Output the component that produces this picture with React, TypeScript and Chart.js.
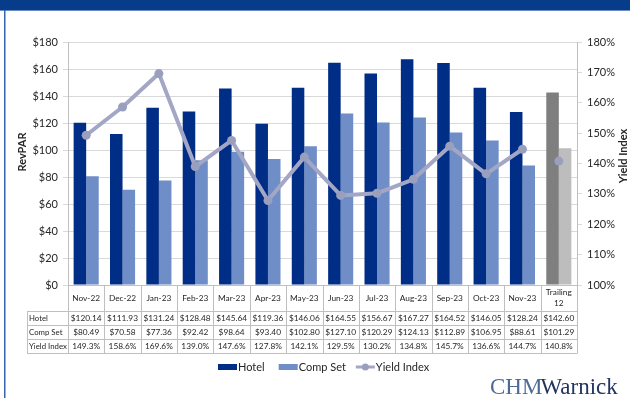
import React, { useEffect, useRef } from 'react';
import { Chart, registerables } from 'chart.js';

Chart.register(...registerables);

const categories = ['Nov-22', 'Dec-22', 'Jan-23', 'Feb-23', 'Mar-23', 'Apr-23', 'May-23', 'Jun-23', 'Jul-23', 'Aug-23', 'Sep-23', 'Oct-23', 'Nov-23', 'Trailing 12'];
const hotel = [120.14, 111.93, 131.24, 128.48, 145.64, 119.36, 146.06, 164.55, 156.67, 167.27, 164.52, 146.05, 128.24, 142.6];
const compSet = [80.49, 70.58, 77.36, 92.42, 98.64, 93.4, 102.8, 127.1, 120.29, 124.13, 112.89, 106.95, 88.61, 101.29];
const yieldIndex = [149.3, 158.6, 169.6, 139.0, 147.6, 127.8, 142.1, 129.5, 130.2, 134.8, 145.7, 136.6, 144.7, 140.8];
const rowLabels = ['Hotel', 'Comp Set', 'Yield Index'];

const FONT = 'Lato, "Open Sans", sans-serif';
const HOTEL = '#002d85';
const COMP = '#6f8dc6';
const HOTEL_T12 = '#7f7f7f';
const COMP_T12 = '#bdbdbd';
const YIELD = '#a3a7c5';
const YIELD_PT = '#9a9fbe';
const GRID = '#d9d9d9';
const LINE = '#bfbfbf';
const TEXT = '#262626';

const last = categories.length - 1;
const fmtMoney = (v: number) => '$' + v.toFixed(2);
const fmtPct = (v: number) => v.toFixed(1) + '%';

const framePlugin = {
  id: 'frame',
  beforeDraw(chart: any) {
    const ctx = chart.ctx;
    ctx.save();
    ctx.fillStyle = '#ffffff';
    ctx.fillRect(0, 0, chart.width, chart.height);
    ctx.fillStyle = '#073c8a';
    ctx.fillRect(0, 0, chart.width, 10);
    ctx.fillStyle = '#6a8cc2';
    ctx.fillRect(0, 10, chart.width, 1);
    ctx.fillStyle = '#3565ad';
    ctx.fillRect(4, 10, 1.5, chart.height - 10);
    ctx.restore();
  },
};

const tablePlugin = {
  id: 'table',
  afterDraw(chart: any) {
    const ctx = chart.ctx;
    const area = chart.chartArea;
    const xs = chart.scales.x;
    const n = categories.length;
    const step = (area.right - area.left) / n;
    const top = area.bottom;
    const hdrBottom = top + 26;
    const rowH = 14;
    const bottom = hdrBottom + rowH * 3;
    const labelLeft = 27;
    ctx.save();
    ctx.strokeStyle = LINE;
    ctx.lineWidth = 1;
    const ln = (x1: number, y1: number, x2: number, y2: number) => {
      ctx.beginPath();
      ctx.moveTo(x1, y1);
      ctx.lineTo(x2, y2);
      ctx.stroke();
    };
    for (let i = 0; i <= n; i++) {
      const xx = Math.round(xs.getPixelForValue(i) - step / 2) + 0.5;
      ln(xx, top, xx, bottom);
    }
    ln(labelLeft + 0.5, hdrBottom, labelLeft + 0.5, bottom);
    for (let r = 0; r <= 3; r++) {
      const yy = Math.round(hdrBottom + r * rowH) + 0.5;
      ln(labelLeft, yy, Math.round(area.right) + 0.5, yy);
    }
    ctx.fillStyle = TEXT;
    ctx.font = `8.3px ${FONT}`;
    ctx.textBaseline = 'middle';
    ctx.textAlign = 'center';
    categories.forEach((c, i) => {
      const cx = xs.getPixelForValue(i);
      const parts = c === 'Trailing 12' ? ['Trailing', '12'] : [c];
      const mid = (top + hdrBottom) / 2;
      if (parts.length === 1) ctx.fillText(parts[0], cx, mid);
      else {
        ctx.fillText(parts[0], cx, mid - 5.5);
        ctx.fillText(parts[1], cx, mid + 5.5);
      }
    });
    const rows = [hotel.map(fmtMoney), compSet.map(fmtMoney), yieldIndex.map(fmtPct)];
    rows.forEach((vals, r) => {
      const cy = hdrBottom + r * rowH + rowH / 2 + 0.5;
      ctx.textAlign = 'left';
      ctx.font = `7.8px ${FONT}`;
      ctx.fillText(rowLabels[r], labelLeft + 2, cy);
      ctx.textAlign = 'center';
      ctx.font = `8.3px ${FONT}`;
      vals.forEach((v, i) => ctx.fillText(v, xs.getPixelForValue(i), cy));
    });

    // axis titles
    ctx.font = `bold 11px ${FONT}`;
    ctx.textAlign = 'center';
    ctx.save();
    ctx.translate(22, 152);
    ctx.rotate(-Math.PI / 2);
    ctx.fillText('RevPAR', 0, 0);
    ctx.restore();
    ctx.save();
    ctx.translate(623, 156);
    ctx.rotate(-Math.PI / 2);
    ctx.fillText('Yield Index', 0, 0);
    ctx.restore();

    // legend
    ctx.font = `11px ${FONT}`;
    ctx.textAlign = 'left';
    const ly = 367;
    let lx = 218;
    ctx.fillStyle = HOTEL;
    ctx.fillRect(lx, ly - 3, 19, 6);
    ctx.fillStyle = TEXT;
    ctx.fillText('Hotel', lx + 20, ly);
    lx = lx + 20 + ctx.measureText('Hotel').width + 14;
    ctx.fillStyle = COMP;
    ctx.fillRect(lx, ly - 3, 19, 6);
    ctx.fillStyle = TEXT;
    ctx.fillText('Comp Set', lx + 20, ly);
    lx = lx + 20 + ctx.measureText('Comp Set').width + 10;
    ctx.strokeStyle = YIELD;
    ctx.lineWidth = 3;
    ln(lx, ly, lx + 19, ly);
    ctx.fillStyle = YIELD_PT;
    ctx.beginPath();
    ctx.arc(lx + 9.5, ly, 3.5, 0, Math.PI * 2);
    ctx.fill();
    ctx.fillStyle = TEXT;
    ctx.fillText('Yield Index', lx + 20, ly);

    // logo
    ctx.textBaseline = 'alphabetic';
    ctx.font = `23px "Liberation Serif", "DejaVu Serif", serif`;
    let gx = 490;
    ctx.fillStyle = '#4d6a97';
    ctx.fillText('CHM', gx, 394);
    gx += ctx.measureText('CHM').width - 2;
    ctx.fillStyle = '#23355e';
    ctx.fillText('Warnick', gx, 394);
    ctx.restore();
  },
};

export default function App() {
  const ref = useRef<HTMLCanvasElement | null>(null);
  useEffect(() => {
    document.body.style.margin = '0';
    const canvas = ref.current;
    if (!canvas) return;
    const chart = new Chart(canvas, {
      type: 'bar',
      data: {
        labels: categories,
        datasets: [
          {
            type: 'line',
            label: 'Yield Index',
            data: yieldIndex,
            yAxisID: 'y1',
            borderColor: YIELD,
            backgroundColor: YIELD_PT,
            borderWidth: 4,
            borderJoinStyle: 'round',
            borderCapStyle: 'round',
            pointRadius: 4.5,
            pointBorderWidth: 0,
            pointBackgroundColor: YIELD_PT,
            tension: 0,
            order: 0,
            segment: {
              borderColor: (c: any) => (c.p1DataIndex === last ? 'rgba(0,0,0,0)' : YIELD),
            },
          } as any,
          {
            type: 'bar',
            label: 'Hotel',
            data: hotel,
            yAxisID: 'y',
            backgroundColor: hotel.map((_, i) => (i === last ? HOTEL_T12 : HOTEL)),
            barPercentage: 1,
            categoryPercentage: 0.69,
            order: 1,
          },
          {
            type: 'bar',
            label: 'Comp Set',
            data: compSet,
            yAxisID: 'y',
            backgroundColor: compSet.map((_, i) => (i === last ? COMP_T12 : COMP)),
            barPercentage: 1,
            categoryPercentage: 0.69,
            order: 1,
          },
        ],
      },
      options: {
        responsive: false,
        animation: false,
        devicePixelRatio: 1,
        layout: { padding: { top: 42, left: 0, right: 0, bottom: 0 } },
        plugins: {
          legend: { display: false },
          tooltip: { enabled: false },
        },
        scales: {
          x: {
            grid: { display: false },
            border: { display: true, color: LINE },
            ticks: { display: false },
            afterFit: (s: any) => {
              s.height = 113;
            },
          },
          y: {
            position: 'left',
            min: 0,
            max: 180,
            ticks: {
              stepSize: 20,
              callback: (v: any) => '$' + v,
              font: { family: FONT, size: 11 },
              color: TEXT,
              padding: 5,
            },
            grid: { color: GRID, tickLength: 5, drawTicks: true },
            border: { color: LINE },
            afterFit: (s: any) => {
              s.width = 68;
            },
          },
          y1: {
            position: 'right',
            min: 100,
            max: 180,
            ticks: {
              stepSize: 10,
              callback: (v: any) => v + '%',
              font: { family: FONT, size: 11 },
              color: TEXT,
              padding: 5,
            },
            grid: { drawOnChartArea: false, color: GRID, tickLength: 5 },
            border: { color: LINE },
            afterFit: (s: any) => {
              s.width = 53;
            },
          },
        },
      } as any,
      plugins: [framePlugin, tablePlugin],
    });
    return () => chart.destroy();
  }, []);
  return (
    <div style={{ position: 'absolute', left: 0, top: 0, width: 630, height: 398 }}>
      <canvas ref={ref} width={630} height={398} style={{ display: 'block', width: 630, height: 398 }} />
    </div>
  );
}
